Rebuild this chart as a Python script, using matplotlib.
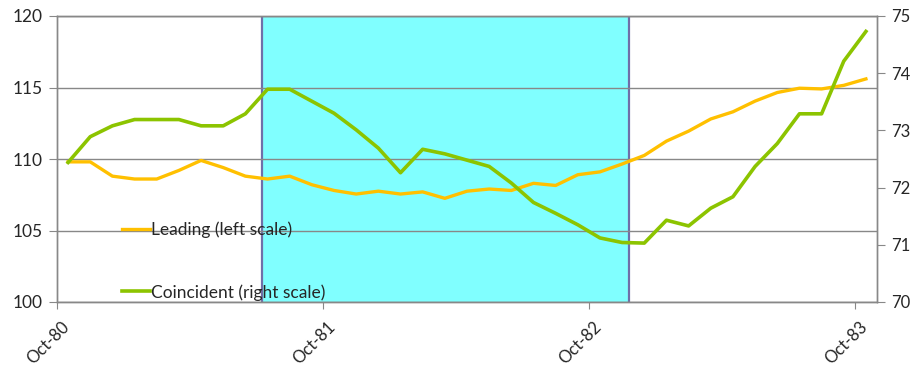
import matplotlib
matplotlib.use("Agg")
import matplotlib.pyplot as plt
from matplotlib.transforms import ScaledTranslation

plt.rcParams['font.family'] = ['Lato', 'DejaVu Sans']

# Monthly composite indexes, Oct-80 .. Oct-83
leading = [109.8, 109.8, 108.8, 108.6, 108.6, 109.2, 109.9, 109.4, 108.8, 108.6,
           108.8, 108.2, 107.8, 107.55, 107.75, 107.55, 107.7, 107.25, 107.75, 107.9,
           107.8, 108.3, 108.15, 108.9, 109.1, 109.65, 110.25, 111.25, 111.95, 112.8,
           113.3, 114.05, 114.65, 114.95, 114.9, 115.15, 115.6]
coincident = [72.44, 72.89, 73.08, 73.19, 73.19, 73.19, 73.08, 73.08, 73.29, 73.72,
              73.72, 73.51, 73.30, 73.01, 72.69, 72.26, 72.67, 72.59, 72.48, 72.37,
              72.08, 71.74, 71.55, 71.35, 71.12, 71.04, 71.03, 71.43, 71.33, 71.64,
              71.84, 72.37, 72.77, 73.29, 73.29, 74.21, 74.73]
year_labels = ["Oct-80", "Oct-81", "Oct-82", "Oct-83"]
recession_start, recession_end = 8.75, 25.3   # shaded band, in month-index units

months = list(range(len(leading)))

fig = plt.figure(figsize=(9.15, 3.70), dpi=100)
ax = fig.add_axes([57 / 915, 1 - 302 / 370, 820 / 915, 286 / 370])
ax2 = ax.twinx()

grid_col = "#888888"
text_col = "#262626"

# recession band
ax.axvspan(recession_start, recession_end, facecolor="#80FFFF", edgecolor="none", zorder=0)
for xv in (recession_start, recession_end):
    ax.axvline(xv, color="#6F6FA8", lw=1.6, zorder=2)

ln1, = ax.plot(months, leading, color="#FFC000", lw=2.4, zorder=3,
               label="Leading (left scale)", solid_joinstyle="round")
ln2, = ax2.plot(months, coincident, color="#8CC400", lw=2.6, zorder=3,
                label="Coincident (right scale)", solid_joinstyle="round")

ax.set_xlim(-0.5, len(months) - 0.5)
ax.set_ylim(100, 120)
ax2.set_ylim(70, 75)
ax.set_yticks([100, 105, 110, 115, 120])
ax2.set_yticks([70, 71, 72, 73, 74, 75])
ax.yaxis.grid(True, color=grid_col, lw=1)
ax.set_axisbelow(False)
for gl in ax.get_ygridlines():
    gl.set_zorder(1)

ax.set_xticks([-0.5 + 12 * k for k in range(len(year_labels))])
ax.set_xticklabels(year_labels, rotation=45, ha="right", va="center",
                   rotation_mode="anchor")
ax.tick_params(axis="x", length=5, pad=11, color=grid_col, labelsize=12,
               labelcolor=text_col)
ax.tick_params(axis="y", length=6, pad=4, color=grid_col, labelsize=12.5,
               labelcolor=text_col)
ax2.tick_params(axis="y", length=6, pad=4.5, color=grid_col, labelsize=12,
                labelcolor=text_col)
shift = ScaledTranslation(10 / 100, 0, fig.dpi_scale_trans)
for lab in ax.get_xticklabels():
    lab.set_transform(lab.get_transform() + shift)

for a in (ax, ax2):
    for s in a.spines.values():
        s.set_color(grid_col)
        s.set_linewidth(1)

leg = ax2.legend(handles=[ln1, ln2], loc="center left",
                 bbox_to_anchor=(0.079, 0.1435), frameon=False, fontsize=12.5,
                 borderpad=0, borderaxespad=0, handlelength=1.65,
                 handletextpad=0.05, labelspacing=2.65)
for t in leg.get_texts():
    t.set_color(text_col)

fig.savefig("out.png", dpi=100)
